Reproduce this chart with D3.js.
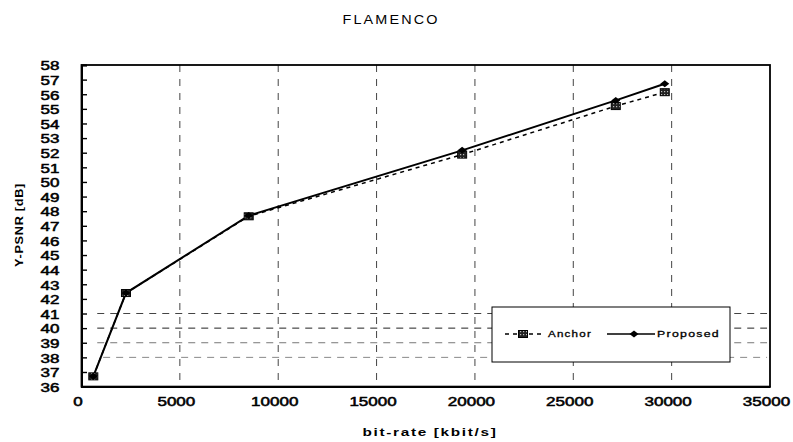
<!DOCTYPE html>
<html>
<head>
<meta charset="utf-8">
<script src="https://cdn.jsdelivr.net/npm/d3@7"></script>
<style>
  html, body { margin: 0; padding: 0; background: #fff; }
  svg { display: block; font-family: "Liberation Sans", Arial, sans-serif; }
</style>
</head>
<body>
<svg id="chart" width="793" height="442"></svg>
<script>
// Rate–distortion data for the FLAMENCO sequence
const bitrates      = [600, 2260, 8500, 19350, 27160, 29650];   // kbit/s
const anchorPSNR    = [36.7, 42.4, 47.65, 51.87, 55.19, 56.14]; // dB
const proposedPSNR  = [36.7, 42.4, 47.7, 52.16, 55.58, 56.72];  // dB
const seriesNames   = ["Anchor", "Proposed"];
const xTicks        = [0, 5000, 10000, 15000, 20000, 25000, 30000, 35000];
const yTicks        = d3.range(36, 59, 1);
const xGridValues   = [5000, 10000, 15000, 20000, 25000, 30000];
const yGridValues   = [38, 39, 40, 41];

const svg = d3.select("#chart");
const plotL = 81.5, plotR = 770, plotT = 65, plotB = 386.6;

const x = d3.scaleLinear().domain([0, 35000]).range([plotL, plotR]);
const y = d3.scaleLinear().domain([36, 58]).range([plotB, plotT]);

// hatched fill for the anchor markers
const defs = svg.append("defs");
const pat = defs.append("pattern").attr("id", "hatch")
  .attr("width", 3).attr("height", 3).attr("patternUnits", "userSpaceOnUse");
pat.append("rect").attr("width", 3).attr("height", 3).attr("fill", "#222");
pat.append("rect").attr("x", 1).attr("y", 1).attr("width", 1.2).attr("height", 1.2).attr("fill", "#bbb");

// title
svg.append("text").attr("x", 391).attr("y", 24).attr("text-anchor", "middle")
  .attr("font-size", 13.5).attr("textLength", 97).attr("lengthAdjust", "spacingAndGlyphs")
  .attr("letter-spacing", 2)
  .text("FLAMENCO");

// grid
const grid = svg.append("g");
grid.selectAll("line.v").data(xGridValues).join("line")
  .attr("x1", d => x(d)).attr("x2", d => x(d))
  .attr("y1", plotT).attr("y2", plotB)
  .attr("stroke", "#444").attr("stroke-width", 1).attr("stroke-dasharray", "7,7");
const hColors = { 38: "#888", 39: "#777", 40: "#222", 41: "#444" };
grid.selectAll("line.h").data(yGridValues).join("line")
  .attr("x1", d => d === 38 ? x(1100) : x(800)).attr("x2", x(34850))
  .attr("y1", d => y(d)).attr("y2", d => y(d))
  .attr("stroke", d => hColors[d]).attr("stroke-width", 1).attr("stroke-dasharray", "7,6");

// frame
svg.append("rect").attr("x", plotL).attr("y", plotT)
  .attr("width", plotR - plotL).attr("height", plotB - plotT)
  .attr("fill", "none").attr("stroke", "#000").attr("stroke-width", 1.8);

// axes
const tickFont = sel => sel
  .attr("font-size", 12).attr("font-family", "Liberation Sans, Arial, sans-serif")
  .attr("fill", "#000").attr("stroke", "#000").attr("stroke-width", 0.5);

const yAxis = svg.append("g").attr("transform", `translate(${plotL},0)`)
  .call(d3.axisLeft(y).tickValues(yTicks).tickSize(-5.5).tickFormat(d3.format("d")));
yAxis.select(".domain").attr("stroke-width", 2);
yAxis.selectAll(".tick line").attr("stroke-width", 1.4);
yAxis.selectAll(".tick text")
  .attr("x", 0).attr("dy", "0.4em")
  .attr("transform", "translate(-22,0) scale(1.42,1)")
  .call(tickFont);

const xAxis = svg.append("g").attr("transform", `translate(0,${plotB})`)
  .call(d3.axisBottom(x).tickValues(xTicks).tickSize(0).tickFormat(d3.format("d")));
xAxis.select(".domain").attr("stroke-width", 2);
xAxis.selectAll(".tick text")
  .attr("y", 0).attr("dy", 0)
  .attr("transform", "translate(-4,19.4) scale(1.42,1)")
  .call(tickFont);

// axis titles
svg.append("text").attr("x", 430).attr("y", 436).attr("text-anchor", "middle")
  .attr("font-size", 11).attr("font-weight", "bold").attr("letter-spacing", 1.2)
  .attr("textLength", 135).attr("lengthAdjust", "spacingAndGlyphs")
  .text("bit-rate [kbit/s]");
svg.append("text").attr("transform", "translate(22.5,225) rotate(-90)")
  .attr("text-anchor", "middle").attr("font-size", 10.5).attr("font-weight", "bold")
  .attr("letter-spacing", 0.6)
  .attr("textLength", 84).attr("lengthAdjust", "spacingAndGlyphs")
  .text("Y-PSNR [dB]");

// series
const anchorPts = bitrates.map((b, i) => [b, anchorPSNR[i]]);
const propPts = bitrates.map((b, i) => [b, proposedPSNR[i]]);
const line = d3.line().x(d => x(d[0])).y(d => y(d[1]));

svg.append("path").datum(anchorPts).attr("d", line)
  .attr("fill", "none").attr("stroke", "#000").attr("stroke-width", 1.5)
  .attr("stroke-dasharray", "4,4");
svg.append("path").datum(propPts).attr("d", line)
  .attr("fill", "none").attr("stroke", "#000").attr("stroke-width", 2);

const square = (g, cx, cy) => g.append("rect")
  .attr("x", cx - 4.5).attr("y", cy - 3.5).attr("width", 9).attr("height", 7)
  .attr("fill", "url(#hatch)").attr("stroke", "#000").attr("stroke-width", 1);
const diamond = (g, cx, cy) => g.append("path")
  .attr("d", `M${cx - 4.5},${cy} L${cx},${cy - 3.5} L${cx + 4.5},${cy} L${cx},${cy + 3.5} Z`)
  .attr("fill", "#000");

const marks = svg.append("g");
anchorPts.forEach(d => square(marks, x(d[0]), y(d[1])));
propPts.forEach(d => diamond(marks, x(d[0]), y(d[1])));

// legend
const lg = svg.append("g");
lg.append("rect").attr("x", 492).attr("y", 307).attr("width", 238).attr("height", 55)
  .attr("fill", "#fff").attr("stroke", "#000").attr("stroke-width", 1);
lg.append("line").attr("x1", 505).attr("x2", 542).attr("y1", 334).attr("y2", 334)
  .attr("stroke", "#000").attr("stroke-width", 1.5).attr("stroke-dasharray", "4,4");
square(lg, 523, 334);
lg.append("text").attr("x", 548).attr("y", 337.3).attr("font-size", 9.5)
  .attr("stroke", "#000").attr("stroke-width", 0.3).attr("letter-spacing", 1)
  .attr("textLength", 44).attr("lengthAdjust", "spacingAndGlyphs").text(seriesNames[0]);
lg.append("line").attr("x1", 607).attr("x2", 655).attr("y1", 334).attr("y2", 334)
  .attr("stroke", "#000").attr("stroke-width", 1.5);
diamond(lg, 634, 334);
lg.append("text").attr("x", 657).attr("y", 337.3).attr("font-size", 9.5)
  .attr("stroke", "#000").attr("stroke-width", 0.3).attr("letter-spacing", 1)
  .attr("textLength", 63).attr("lengthAdjust", "spacingAndGlyphs").text(seriesNames[1]);
</script>
</body>
</html>
